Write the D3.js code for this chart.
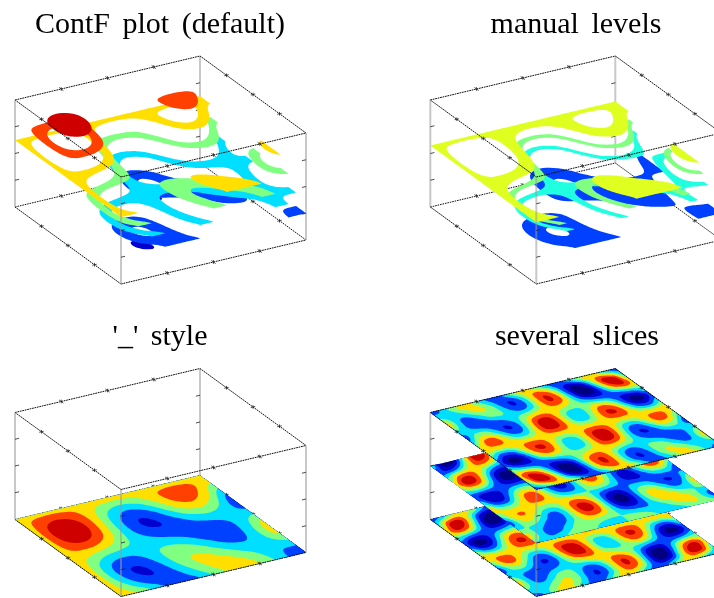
<!DOCTYPE html>
<html><head><meta charset="utf-8">
<script src="https://cdn.jsdelivr.net/npm/d3@7"></script>
<style>html,body{margin:0;padding:0;background:#fff;overflow:hidden}svg{display:block;filter:blur(.45px)}</style>
</head><body><div id="chart"></div>
<script>
const panelTitles = ["ContF plot (default)", "manual levels", "'_' style", "several slices"];
const defaultLevels = [-2, -0.75, -0.5, -0.25, 0, 0.25, 0.5, 0.75];
const levelHeights = [-1, -0.75, -0.5, -0.25, 0, 0.25, 0.5, 0.75];
const defaultColors = ["#000080", "#0000cf", "#0040ff", "#00dfff", "#80ff80", "#ffdf00", "#ff4000", "#cf0000"];
const manualLevels = [-0.5, -0.15, 0, 0.15, 0.5];
const manualColors = ["#0040ff", "#20ffdf", "#80ff80", "#dfff20"];
const axisTicks = [-0.5, 0, 0.5];

const surface = [
[.40,.40,.40,.40,.40,.40,.40,.40,.40,.40,.40,.40,.40],
[.40,.61,.70,.60,.39,.17,.07,.15,.35,.55,.62,.51,.28],
[.40,.76,.91,.74,.35,-.05,-.24,-.12,.20,.52,.62,.42,.00],
[.40,.82,.97,.76,.28,-.20,-.45,-.35,.00,.35,.45,.20,-.28],
[.40,.75,.87,.65,.20,-.26,-.52,-.47,-.20,.08,.17,-.02,-.40],
[.40,.59,.62,.43,.10,-.24,-.45,-.48,-.35,-.18,-.10,-.15,-.28],
[.40,.37,.28,.15,.00,-.15,-.28,-.37,-.40,-.37,-.28,-.15,.00],
[.40,.15,-.06,-.13,-.10,-.05,-.07,-.19,-.35,-.43,-.35,-.08,.28],
[.40,-.02,-.32,-.37,-.20,.02,.12,.02,-.20,-.37,-.32,-.02,.40],
[.40,-.09,-.45,-.50,-.28,.03,.23,.20,.00,-.20,-.23,-.03,.28],
[.40,-.05,-.42,-.52,-.35,-.03,.24,.32,.20,.00,-.13,-.12,.00],
[.40,.09,-.25,-.43,-.39,-.15,.15,.34,.35,.18,-.06,-.24,-.28],
[.40,.28,.00,-.28,-.40,-.28,.00,.28,.40,.28,.00,-.28,-.40]
];

const sliceTop = [
[-.40,-.20,.20,.40,.20,-.20,-.40,-.20,.20,.40,.20,-.20,-.40,-.20,.20,.40,.20,-.20,-.40],
[0,-.14,-.06,.20,.31,.07,-.35,-.52,-.19,.40,.71,.38,-.35,-.83,-.59,.20,.84,.76,0],
[.40,-.14,-.38,-.20,.07,.07,-.20,-.38,-.14,.40,.76,.52,-.20,-.83,-.83,-.20,.52,.76,.40],
[0,-.20,-.35,-.40,-.35,-.20,0,.20,.35,.40,.35,.20,0,-.20,-.35,-.40,-.35,-.20,0],
[-.40,.07,.14,-.20,-.52,-.38,.20,.76,.83,.40,-.07,-.14,.20,.52,.38,-.20,-.76,-.83,-.40],
[0,.52,.59,.20,-.19,-.14,.35,.83,.84,.40,-.06,-.07,.35,.76,.71,.20,-.31,-.38,0],
[.40,.40,.40,.40,.40,.40,.40,.40,.40,.40,.40,.40,.40,.40,.40,.40,.40,.40,.40],
[0,-.38,-.31,.20,.71,.76,.35,-.07,-.06,.40,.84,.83,.35,-.14,-.19,.20,.59,.52,0],
[-.40,-.83,-.76,-.20,.38,.52,.20,-.14,-.07,.40,.83,.76,.20,-.38,-.52,-.20,.14,.07,-.40],
[0,-.20,-.35,-.40,-.35,-.20,0,.20,.35,.40,.35,.20,0,-.20,-.35,-.40,-.35,-.20,0],
[.40,.76,.52,-.20,-.83,-.83,-.20,.52,.76,.40,-.14,-.38,-.20,.07,.07,-.20,-.38,-.14,.40],
[0,.76,.84,.20,-.59,-.83,-.35,.38,.71,.40,-.19,-.52,-.35,.07,.31,.20,-.06,-.14,0],
[-.40,-.20,.20,.40,.20,-.20,-.40,-.20,.20,.40,.20,-.20,-.40,-.20,.20,.40,.20,-.20,-.40]
];

const sliceMiddle = [
[0,-.87,-.87,0,.87,.87,0,-.87,-.87,0,.87,.87,0,-.87,-.87,0,.87,.87,0],
[-.40,-.52,-.19,.35,.64,.40,-.20,-.65,-.57,0,.57,.65,.20,-.40,-.64,-.35,.19,.52,.40],
[0,.52,.65,.35,-.12,-.40,-.35,-.13,0,0,0,.13,.35,.40,.12,-.35,-.65,-.52,0],
[.40,.87,.72,0,-.72,-.87,-.40,.17,.32,0,-.32,-.17,.40,.87,.72,0,-.72,-.87,-.40],
[0,.12,0,-.35,-.65,-.65,-.35,0,.12,0,-.12,0,.35,.65,.65,.35,0,-.12,0],
[-.40,-.65,-.64,-.35,-.05,0,-.20,-.40,-.33,0,.33,.40,.20,0,.05,.35,.64,.65,.40],
[0,-.52,-.52,0,.52,.52,0,-.52,-.52,0,.52,.52,0,-.52,-.52,0,.52,.52,0],
[.40,.13,.12,.35,.57,.52,.20,-.12,-.19,0,.19,.12,-.20,-.52,-.57,-.35,-.12,-.13,-.40],
[0,.40,.52,.35,.13,.13,.35,.52,.40,0,-.40,-.52,-.35,-.13,-.13,-.35,-.52,-.40,0],
[-.40,.17,.32,0,-.32,-.17,.40,.87,.72,0,-.72,-.87,-.40,.17,.32,0,-.32,-.17,.40],
[0,0,-.13,-.35,-.40,-.12,.35,.65,.52,0,-.52,-.65,-.35,.12,.40,.35,.13,0,0],
[.40,0,-.33,-.35,-.12,.12,.20,.13,.05,0,-.05,-.13,-.20,-.12,.12,.35,.33,0,-.40],
[0,-.17,-.17,0,.17,.17,0,-.17,-.17,0,.17,.17,0,-.17,-.17,0,.17,.17,0]
];

const sliceBottom = [
[-.40,-.20,.20,.40,.20,-.20,-.40,-.20,.20,.40,.20,-.20,-.40,-.20,.20,.40,.20,-.20,-.40],
[0,.76,.84,.20,-.59,-.83,-.35,.38,.71,.40,-.19,-.52,-.35,.07,.31,.20,-.06,-.14,0],
[.40,.76,.52,-.20,-.83,-.83,-.20,.52,.76,.40,-.14,-.38,-.20,.07,.07,-.20,-.38,-.14,.40],
[0,-.20,-.35,-.40,-.35,-.20,0,.20,.35,.40,.35,.20,0,-.20,-.35,-.40,-.35,-.20,0],
[-.40,-.83,-.76,-.20,.38,.52,.20,-.14,-.07,.40,.83,.76,.20,-.38,-.52,-.20,.14,.07,-.40],
[0,-.38,-.31,.20,.71,.76,.35,-.07,-.06,.40,.84,.83,.35,-.14,-.19,.20,.59,.52,0],
[.40,.40,.40,.40,.40,.40,.40,.40,.40,.40,.40,.40,.40,.40,.40,.40,.40,.40,.40],
[0,.52,.59,.20,-.19,-.14,.35,.83,.84,.40,-.06,-.07,.35,.76,.71,.20,-.31,-.38,0],
[-.40,.07,.14,-.20,-.52,-.38,.20,.76,.83,.40,-.07,-.14,.20,.52,.38,-.20,-.76,-.83,-.40],
[0,-.20,-.35,-.40,-.35,-.20,0,.20,.35,.40,.35,.20,0,-.20,-.35,-.40,-.35,-.20,0],
[.40,-.14,-.38,-.20,.07,.07,-.20,-.38,-.14,.40,.76,.52,-.20,-.83,-.83,-.20,.52,.76,.40],
[0,-.14,-.06,.20,.31,.07,-.35,-.52,-.19,.40,.71,.38,-.35,-.83,-.59,.20,.84,.76,0],
[-.40,-.20,.20,.40,.20,-.20,-.40,-.20,.20,.40,.20,-.20,-.40,-.20,.20,.40,.20,-.20,-.40]
];

const WIDTH = 714, HEIGHT = 598;
const svg = d3.select("#chart").append("svg").attr("width", WIDTH).attr("height", HEIGHT);

const uAxis = d3.scaleLinear().domain([-1, 1]).range([0, 1]);
const zAxis = d3.scaleLinear().domain([-1, 1]).range([0, 1]);

function projector(ox, oy) {
  return (u, v, z) => [ox + 106 * u + 185 * v, oy + 77 * u - 44 * v - 107 * z];
}

function catmull(a, b, c, d, t) {
  return 0.5 * (2 * b + (c - a) * t + (2 * a - 5 * b + 4 * c - d) * t * t + (3 * b - a - 3 * c + d) * t * t * t);
}

function resample(grid, factor) {
  const ny0 = grid.length, nx0 = grid[0].length;
  const nx = (nx0 - 1) * factor + 1, ny = (ny0 - 1) * factor + 1;
  const values = new Float64Array(nx * ny);
  const at = (i, j) => {
    const ii = Math.max(0, Math.min(ny0 - 1, i)), jj = Math.max(0, Math.min(nx0 - 1, j));
    return grid[ii][jj];
  };
  for (let y = 0; y < ny; y++) {
    const i = Math.min(ny0 - 2, Math.floor(y / factor)), ti = y / factor - i;
    for (let x = 0; x < nx; x++) {
      const j = Math.min(nx0 - 2, Math.floor(x / factor)), tj = x / factor - j;
      const col = [-1, 0, 1, 2].map(di => catmull(at(i + di, j - 1), at(i + di, j), at(i + di, j + 1), at(i + di, j + 2), tj));
      values[y * nx + x] = catmull(col[0], col[1], col[2], col[3], ti);
    }
  }
  return { values, nx, ny };
}

function bandMaker(grid) {
  const { values, nx, ny } = resample(grid, 6);
  const contours = d3.contours().size([nx, ny]).smooth(true);
  const xs = d3.scaleLinear().domain([0.5, nx - 0.5]).range([0, 1]).clamp(true);
  const ys = d3.scaleLinear().domain([0.5, ny - 0.5]).range([0, 1]).clamp(true);
  return {
    shape: t => contours.contour(values, t),
    pathAt: (project, z) => d3.geoPath(d3.geoTransform({
      point(x, y) { const p = project(ys(y), xs(x), z); this.stream.point(p[0], p[1]); }
    }))
  };
}

function drawEdge(g, project, a, b, back) {
  const p = project(...a), q = project(...b);
  const vertical = a[0] === b[0] && a[1] === b[1];
  const line = g.append("line").attr("x1", p[0]).attr("y1", p[1]).attr("x2", q[0]).attr("y2", q[1]);
  if (vertical) line.attr("stroke", "#9a9a9a").attr("stroke-opacity", 0.55).attr("stroke-width", 2);
  else line.attr("stroke", "#111").attr("stroke-width", 1).attr("stroke-dasharray", back ? "1.6 0.9" : "1.8 0.7");
  axisTicks.forEach(t => {
    const f = uAxis(t);
    const m = [a[0] + (b[0] - a[0]) * f, a[1] + (b[1] - a[1]) * f, a[2] + (b[2] - a[2]) * f];
    const s = project(...m);
    let segs;
    if (vertical) {
      const dir = a[1] === 0 && a[0] === 0 || a[0] === 1 && a[1] === 0 ? 1 : -1;
      const e = project(m[0], m[1] + dir * 0.022, m[2]);
      segs = [[s, e]];
    } else if (a[0] !== b[0]) {
      const e1 = project(m[0], m[1] + 0.012, m[2]), e2 = project(m[0], m[1] - 0.012, m[2]);
      segs = [[e1, e2], [[s[0], s[1] - 1.8], [s[0], s[1] + 1.8]]];
    } else {
      const e1 = project(m[0] + 0.02, m[1], m[2]), e2 = project(m[0] - 0.02, m[1], m[2]);
      segs = [[e1, e2], [[s[0], s[1] - 1.8], [s[0], s[1] + 1.8]]];
    }
    segs.forEach(se => g.append("line")
      .attr("x1", se[0][0]).attr("y1", se[0][1]).attr("x2", se[1][0]).attr("y2", se[1][1])
      .attr("stroke", "#222").attr("stroke-width", 0.8));
  });
}

function drawBack(g, project) {
  drawEdge(g, project, [0, 0, 0], [0, 1, 0], true);
  drawEdge(g, project, [0, 1, 0], [1, 1, 0], true);
  drawEdge(g, project, [0, 1, 0], [0, 1, 1], true);
}
function drawFront(g, project) {
  drawEdge(g, project, [0, 0, 1], [0, 1, 1]);
  drawEdge(g, project, [0, 1, 1], [1, 1, 1]);
  drawEdge(g, project, [1, 0, 1], [1, 1, 1]);
  drawEdge(g, project, [0, 0, 1], [1, 0, 1]);
  drawEdge(g, project, [0, 0, 0], [1, 0, 0]);
  drawEdge(g, project, [1, 0, 0], [1, 1, 0]);
  drawEdge(g, project, [0, 0, 0], [0, 0, 1]);
  drawEdge(g, project, [1, 0, 0], [1, 0, 1]);
  drawEdge(g, project, [1, 1, 0], [1, 1, 1]);
}

function liftedBands(g, project, grid, levels, heights, colors) {
  const maker = bandMaker(grid);
  colors.forEach((color, k) => {
    const lo = levels[k], hi = levels[k + 1];
    const path = maker.pathAt(project, zAxis(heights[k]));
    const d = (path(maker.shape(lo)) || "") + (hi === undefined ? "" : (path(maker.shape(hi)) || ""));
    if (d) g.append("path").attr("d", d).attr("fill", color).attr("fill-rule", "evenodd");
  });
}

function flatBands(g, project, grid, z) {
  const maker = bandMaker(grid);
  const path = maker.pathAt(project, z);
  defaultLevels.forEach((lo, k) => {
    const d = path(maker.shape(lo));
    if (d) g.append("path").attr("d", d).attr("fill", defaultColors[k]);
  });
}

const panels = [
  { ox: 15, oy: 207, tx: 160, ty: 33 },
  { ox: 430.3, oy: 207, tx: 576, ty: 33 },
  { ox: 15, oy: 519.5, tx: 160, ty: 345 },
  { ox: 430.3, oy: 519.5, tx: 577, ty: 345 }
];

panels.forEach((p, idx) => {
  const g = svg.append("g");
  const project = projector(p.ox, p.oy);
  g.append("text").attr("x", p.tx).attr("y", p.ty).attr("text-anchor", "middle")
    .attr("font-family", "'Liberation Serif', serif").attr("font-size", 30)
    .attr("word-spacing", 5).attr("fill", "#000").text(panelTitles[idx]);
  drawBack(g, project);
  if (idx === 0) liftedBands(g, project, surface, defaultLevels.slice(1), levelHeights.slice(1), defaultColors.slice(1));
  if (idx === 1) liftedBands(g, project, surface, manualLevels, manualLevels, manualColors);
  if (idx === 2) flatBands(g, project, surface, 0);
  if (idx === 3) {
    flatBands(g, project, sliceBottom, 0);
    flatBands(g, project, sliceMiddle, 0.5);
    flatBands(g, project, sliceTop, 1);
  }
  drawFront(g, project);
});
</script></body></html>
